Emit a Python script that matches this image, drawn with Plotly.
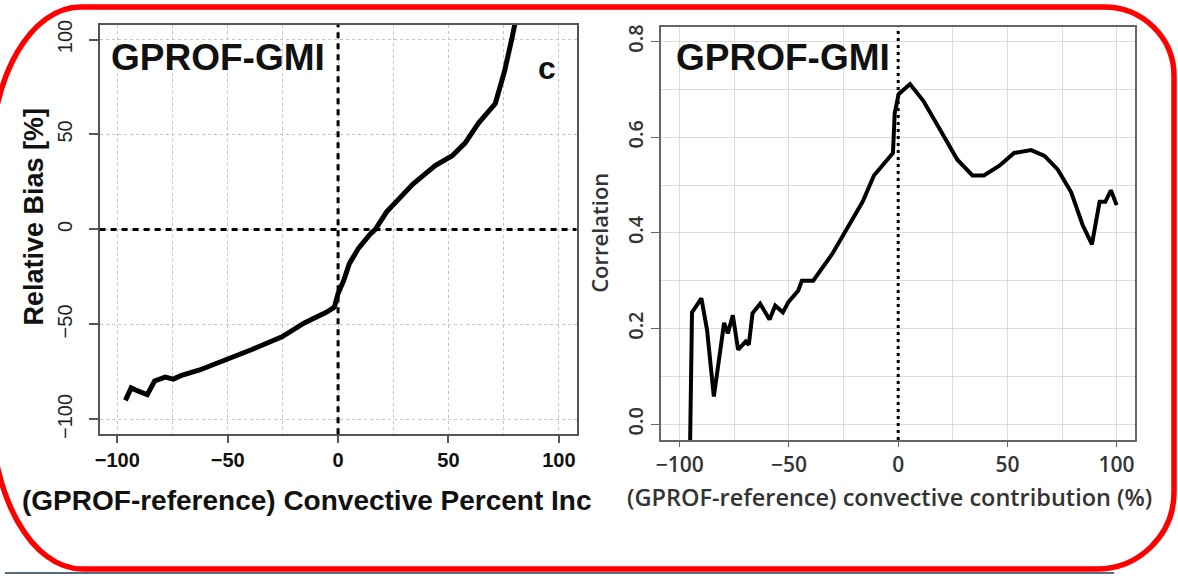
import plotly.graph_objects as go

W, H = 1178, 578

# ---- data ----
# Left panel: Relative bias [%] vs (GPROF-reference) convective percent increase
bias_x = [-96.3, -93.7, -90.7, -86.4, -83.1, -78.3, -74.6, -71.2, -62.7, -50.8,
          -39.0, -25.4, -15.3, -5.1, -1.7, 0.0, 2.5, 5.1, 9.3, 14.4,
          16.9, 22.0, 33.9, 44.0, 51.7, 57.6, 63.6, 71.2, 75.4, 78.8,
          81.0, 83.0]
bias_y = [-90, -83.4, -85, -87, -79.8, -77.7, -78.8, -77, -74, -68.9,
          -63.2, -56.5, -49.2, -43.5, -40.9, -33.7, -27, -18, -9.8, -2.6,
          0, 9.3, 23.9, 33.6, 38.8, 45.6, 56, 66.3, 83.4, 101,
          112, 125]

# Right panel: correlation vs (GPROF-reference) convective contribution (%)
corr_x = [-95.3, -94.4, -90.1, -87.5, -84.4, -81.4, -79.7, -78.0, -75.7, -73.3,
          -69.8, -68.4, -66.7, -63.2, -58.9, -56.3, -52.8, -50.2, -45.8, -44.1,
          -38.9, -30.2, -23.3, -16.3, -11.1, -5.9, -2.4, -1.6, 0.2, 5.4,
          11.5, 18.4, 27.1, 34.0, 39.2, 46.2, 53.1, 60.9, 67.0, 73.1,
          79.2, 84.4, 88.7, 92.2, 94.8, 97.4, 100.0]
corr_y = [-0.05, 0.234, 0.263, 0.197, 0.058, 0.163, 0.212, 0.19, 0.228, 0.156,
          0.173, 0.166, 0.232, 0.252, 0.219, 0.248, 0.234, 0.256, 0.279, 0.3,
          0.3, 0.356, 0.41, 0.465, 0.52, 0.547, 0.567, 0.65, 0.69, 0.711,
          0.676, 0.622, 0.553, 0.52, 0.52, 0.54, 0.567, 0.573, 0.561, 0.532,
          0.485, 0.417, 0.376, 0.465, 0.465, 0.489, 0.458]

left_xticks = [-100, -50, 0, 50, 100]
left_yticks = [-100, -50, 0, 50, 100]
right_xticks = [-100, -50, 0, 50, 100]
right_yticks = [0.0, 0.2, 0.4, 0.6, 0.8]

panel_label = "GPROF-GMI"
left_ytitle = "Relative Bias [%]"
left_xtitle = "(GPROF-reference) Convective Percent Inc"
right_ytitle = "Correlation"
right_xtitle = "(GPROF-reference) convective contribution (%)"


def px(x):
    return x / W


def py(y):
    return 1 - y / H


fig = go.Figure()
fig.add_trace(go.Scatter(x=bias_x, y=bias_y, mode="lines", xaxis="x", yaxis="y",
                         line=dict(color="black", width=5), showlegend=False,
                         cliponaxis=True))
fig.add_trace(go.Scatter(x=corr_x, y=corr_y, mode="lines", xaxis="x2", yaxis="y2",
                         line=dict(color="black", width=4), showlegend=False,
                         cliponaxis=True))

arial_b = dict(family="Liberation Sans, Arial", color="#111", weight="bold")
arial = dict(family="Liberation Sans, Arial", color="#222")
sans = dict(family="Open Sans", color="#333", weight=600)

fig.update_layout(
    width=W, height=H, autosize=False,
    margin=dict(l=0, r=0, t=0, b=0),
    paper_bgcolor="white", plot_bgcolor="white",
    xaxis=dict(domain=[px(95), px(574)], anchor="y", range=[-108, 108],
               tickvals=left_xticks, ticks="outside", ticklen=7, tickwidth=1.5,
               tickcolor="#555", showline=True, linecolor="#555", linewidth=1.5,
               mirror=True, zeroline=False,
               showgrid=True, gridcolor="#c4c4c4", griddash="dot", gridwidth=1,
               minor=dict(dtick=25, tick0=0, showgrid=True, gridcolor="#c4c4c4",
                          griddash="dot", gridwidth=1),
               tickfont=dict(size=20, **arial_b)),
    yaxis=dict(domain=[py(436), py(20)], anchor="x", range=[-107.8, 107.8],
               tickvals=left_yticks, tickangle=-90, ticks="outside", ticklen=9,
               tickwidth=1.5, tickcolor="#555", showline=True, linecolor="#555",
               linewidth=1.5, mirror=True, zeroline=False, ticklabelstandoff=9,
               showgrid=True, gridcolor="#c4c4c4", griddash="dot", gridwidth=1,
               tickfont=dict(size=20, **arial)),
    xaxis2=dict(domain=[px(659), px(1135)], anchor="y2", range=[-108.5, 108.5],
                tickvals=right_xticks, ticks="outside", ticklen=5, tickwidth=1,
                tickcolor="#666", showline=True, linecolor="#666", linewidth=1.5,
                mirror=True, zeroline=False,
                showgrid=True, gridcolor="#dcdcdc", gridwidth=1,
                minor=dict(dtick=25, tick0=0, showgrid=True, gridcolor="#dcdcdc",
                           gridwidth=1),
                tickfont=dict(size=21, **sans)),
    yaxis2=dict(domain=[py(442), py(22)], anchor="x2", range=[-0.033, 0.831],
                tickvals=right_yticks, tickformat=".1f", tickangle=-90,
                ticks="outside", ticklen=8, tickwidth=1, tickcolor="#666",
                showline=True, linecolor="#666", linewidth=1.5, mirror=True,
                zeroline=False, showgrid=True, gridcolor="#dcdcdc", gridwidth=1,
                minor=dict(dtick=0.1, tick0=0, showgrid=True, gridcolor="#dcdcdc",
                           gridwidth=1),
                tickfont=dict(size=20, **sans)),
)

# reference lines
fig.add_shape(type="line", xref="x", yref="y domain", x0=0, x1=0, y0=0, y1=1,
              line=dict(color="black", width=3, dash="6px,5px"))
fig.add_shape(type="line", xref="x domain", yref="y", x0=0, x1=1, y0=0, y1=0,
              line=dict(color="black", width=3, dash="6px,5px"))
fig.add_shape(type="line", xref="x2", yref="y2 domain", x0=0, x1=0, y0=0, y1=1,
              line=dict(color="black", width=3, dash="3px,4px"))

# texts
ann = [
    dict(x=px(104), y=py(53), text=panel_label, xanchor="left", yanchor="middle",
         font=dict(size=37, **arial_b)),
    dict(x=px(544), y=py(64), text="c", xanchor="center", yanchor="middle",
         font=dict(size=32, **arial_b)),
    dict(x=px(672), y=py(53), text=panel_label, xanchor="left", yanchor="middle",
         font=dict(size=37, **arial_b)),
    dict(x=px(29), y=py(215), text=left_ytitle, textangle=-90, xanchor="center",
         yanchor="middle", font=dict(size=27, **arial_b)),
    dict(x=px(15), y=py(503), text=left_xtitle, xanchor="left", yanchor="middle",
         font=dict(size=28, **arial_b)),
    dict(x=px(597), y=py(231), text=right_ytitle, textangle=-90, xanchor="center",
         yanchor="middle", font=dict(size=22, family="Open Sans", color="#333",
                                     weight=600)),
    dict(x=px(888), y=py(500), text=right_xtitle, xanchor="center",
         yanchor="middle", font=dict(size=23.5, family="Open Sans", color="#333",
                                     weight=600)),
]
for a in ann:
    a.update(xref="paper", yref="paper", showarrow=False)
fig.update_layout(annotations=ann)

# rounded red frame (cubic-bezier corners with per-corner radii, paper coords)
x0, y0, x1, y1 = -14, 2, 1174, 573
tl = (90, 157)   # (rx, ry) top-left
tr = (70, 70)    # top-right
br = (78, 78)    # bottom-right
bl = (92, 164)   # bottom-left
c = 0.5523
pts = [
    f"M {px(x0 + tl[0])},{py(y0)}",
    f"L {px(x1 - tr[0])},{py(y0)}",
    f"C {px(x1 - tr[0] + c * tr[0])},{py(y0)} {px(x1)},{py(y0 + tr[1] - c * tr[1])} {px(x1)},{py(y0 + tr[1])}",
    f"L {px(x1)},{py(y1 - br[1])}",
    f"C {px(x1)},{py(y1 - br[1] + c * br[1])} {px(x1 - br[0] + c * br[0])},{py(y1)} {px(x1 - br[0])},{py(y1)}",
    f"L {px(x0 + bl[0])},{py(y1)}",
    f"C {px(x0 + bl[0] - c * bl[0])},{py(y1)} {px(x0)},{py(y1 - bl[1] + c * bl[1])} {px(x0)},{py(y1 - bl[1])}",
    f"L {px(x0)},{py(y0 + tl[1])}",
    f"C {px(x0)},{py(y0 + tl[1] - c * tl[1])} {px(x0 + tl[0] - c * tl[0])},{py(y0)} {px(x0 + tl[0])},{py(y0)} Z",
]
fig.add_shape(type="line", xref="paper", yref="paper", x0=0, x1=px(1114),
              y0=py(577), y1=py(577), line=dict(color="#5a6b80", width=2))
fig.add_shape(type="path", xref="paper", yref="paper", path=" ".join(pts),
              line=dict(color="#ff0000", width=5.5), layer="above")

fig.write_html("out.html")
